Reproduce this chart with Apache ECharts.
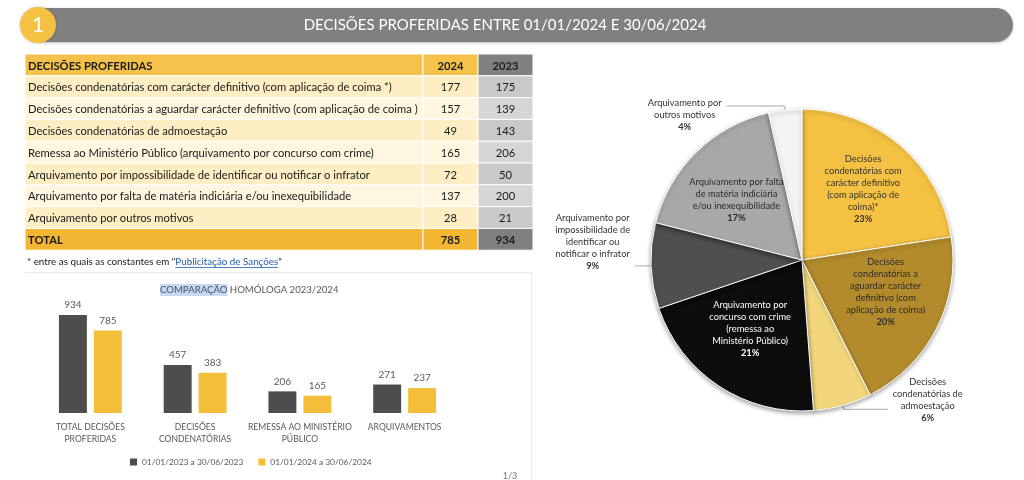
<!DOCTYPE html>
<html><head><meta charset="utf-8">
<script src="https://cdn.jsdelivr.net/npm/echarts@6/dist/echarts.min.js"></script>
<style>html,body{margin:0;padding:0;background:#fff}#c{width:1024px;height:480px}</style>
</head><body><div id="c"></div>
<script>
// ---------- DATA ----------
const pageNumber = '1';
const pageTitle = 'DECISÕES PROFERIDAS ENTRE 01/01/2024 E 30/06/2024';
const tableHeader = ['DECISÕES PROFERIDAS', '2024', '2023'];
const tableRows = [
  'Decisões condenatórias com carácter definitivo (com aplicação de coima *)',
  'Decisões condenatórias a aguardar carácter definitivo (com aplicação de coima )',
  'Decisões condenatórias de admoestação',
  'Remessa ao Ministério Público (arquivamento por concurso com crime)',
  'Arquivamento por impossibilidade de identificar ou notificar o infrator',
  'Arquivamento por falta de matéria indiciária e/ou inexequibilidade',
  'Arquivamento por outros motivos'
];
const values2024 = [177, 157, 49, 165, 72, 137, 28];
const values2023 = [175, 139, 143, 206, 50, 200, 21];
const totalLabel = 'TOTAL';
const footnotePrefix = '* entre as quais as constantes em "';
const footnoteLink = 'Publicitação de Sanções';
const footnoteSuffix = '"';
const barTitleHighlight = 'COMPARAÇÃO';
const barTitleRest = ' HOMÓLOGA 2023/2024';
const barCategories = ['TOTAL DECISÕES\nPROFERIDAS', 'DECISÕES\nCONDENATÓRIAS', 'REMESSA AO MINISTÉRIO\nPÚBLICO', 'ARQUIVAMENTOS'];
const barSeriesNames = ['01/01/2023 a 30/06/2023', '01/01/2024 a 30/06/2024'];
const bars2023 = [934, 457, 206, 271];
const bars2024 = [785, 383, 165, 237];
const pieLabels = [
  'Decisões\ncondenatórias com\ncarácter definitivo\n(com aplicação de\ncoima)*',
  'Decisões\ncondenatórias a\naguardar carácter\ndefinitivo (com\naplicação de coima)',
  'Decisões\ncondenatórias de\nadmoestação',
  'Arquivamento por\nconcurso com crime\n(remessa ao\nMinistério Público)',
  'Arquivamento por\nimpossibilidade de\nidentificar ou\nnotificar o infrator',
  'Arquivamento por falta\nde matéria indiciária\ne/ou inexequibilidade',
  'Arquivamento por\noutros motivos'
];
const pieValues = values2024;
const pageFooter = '1/3';

// ---------- STYLE ----------
const FONT = 'Lato, "Open Sans", sans-serif';
const pieColors = ['#F4C142', '#B38B2C', '#F3D67C', '#0D0D0D', '#4F4F4F', '#A8A8A8', '#F4F4F4'];
const pieInside = [true, true, false, true, false, true, false];
const pieInsideText = ['#333', '#2b2b2b', '#333', '#fff', '#333', '#2b2b2b', '#333'];
const pieLine = {2: [4, 44], 4: [4, 12], 6: [4, 58]};
const pieLabelDy = {0: 0, 1: -11, 3: -9, 5: 7, 2: -9, 4: -24, 6: 9};

const chart = echarts.init(document.getElementById('c'), null, {renderer: 'canvas'});

// table graphics
const g = [];
const tx0 = 25, tc1 = 423, tc2 = 478, tx1 = 533, ty0 = 54, rh = 21.8;
const TF = '11.2px ' + FONT, TFB = 'bold 11.2px ' + FONT;
function cell(x, y, w, h, fill) {
  g.push({type: 'rect', shape: {x, y, width: w, height: h}, style: {fill, stroke: '#fff', lineWidth: 1}, silent: true});
}
function txt(text, x, y, opts) {
  g.push({type: 'text', silent: true, style: Object.assign({text, x, y, fill: '#1a1a1a', font: TF,
    textAlign: 'left', align: 'left', textVerticalAlign: 'middle', verticalAlign: 'middle'}, opts || {})});
}
// header
cell(tx0, ty0, tc1 - tx0, rh, '#F4C24A');
cell(tc1, ty0, tc2 - tc1, rh, '#F4C24A');
cell(tc2, ty0, tx1 - tc2, rh, '#808080');
txt(tableHeader[0], tx0 + 3, ty0 + rh / 2 + 1, {font: TFB});
txt(tableHeader[1], (tc1 + tc2) / 2, ty0 + rh / 2 + 1, {font: TFB, textAlign: 'center', align: 'center'});
txt(tableHeader[2], (tc2 + tx1) / 2, ty0 + rh / 2 + 1, {font: TFB, textAlign: 'center', align: 'center'});
tableRows.forEach((lab, i) => {
  const y = ty0 + rh * (i + 1);
  const f = i % 2 === 0 ? '#FDEEC4' : '#FEF6DF';
  const f2 = i % 2 === 0 ? '#C9C9C9' : '#D6D6D6';
  cell(tx0, y, tc1 - tx0, rh, f);
  cell(tc1, y, tc2 - tc1, rh, f);
  cell(tc2, y, tx1 - tc2, rh, f2);
  txt(lab, tx0 + 3, y + rh / 2 + 1);
  txt(String(values2024[i]), (tc1 + tc2) / 2, y + rh / 2 + 1, {textAlign: 'center', align: 'center'});
  txt(String(values2023[i]), (tc2 + tx1) / 2, y + rh / 2 + 1, {textAlign: 'center', align: 'center'});
});
const ty = ty0 + rh * (tableRows.length + 1);
const sum = a => a.reduce((s, v) => s + v, 0);
cell(tx0, ty, tc1 - tx0, rh, '#F2B632');
cell(tc1, ty, tc2 - tc1, rh, '#F2B632');
cell(tc2, ty, tx1 - tc2, rh, '#7F7F7F');
txt(totalLabel, tx0 + 3, ty + rh / 2 + 1, {font: TFB});
txt(String(sum(values2024)), (tc1 + tc2) / 2, ty + rh / 2 + 1, {font: TFB, textAlign: 'center', align: 'center'});
txt(String(sum(values2023)), (tc2 + tx1) / 2, ty + rh / 2 + 1, {font: TFB, textAlign: 'center', align: 'center'});

// footnote
const fnFont = '9.8px ' + FONT;
const mctx = document.createElement('canvas').getContext('2d');
mctx.font = fnFont;
const wPre = mctx.measureText(footnotePrefix).width;
const wLink = mctx.measureText(footnoteLink).width;
const fnX = 27, fnY = 262;
txt(footnotePrefix, fnX, fnY, {font: fnFont, fill: '#222'});
txt(footnoteLink, fnX + wPre, fnY, {font: fnFont, fill: '#1F5FB0'});
txt(footnoteSuffix, fnX + wPre + wLink, fnY, {font: fnFont, fill: '#222'});
g.push({type: 'line', silent: true, shape: {x1: fnX + wPre, y1: fnY + 5.5, x2: fnX + wPre + wLink, y2: fnY + 5.5}, style: {stroke: '#1F5FB0', lineWidth: 0.8}});

// chart box faint border
g.push({type: 'polyline', silent: true, shape: {points: [[25, 272.5], [531.5, 272.5], [531.5, 480]]}, style: {stroke: '#EBEBEB', lineWidth: 1, fill: null}});

// bar title
g.push({type: 'text', silent: true, style: {x: 160, y: 290, textVerticalAlign: 'middle', verticalAlign: 'middle',
  text: '{h|' + barTitleHighlight + '}{r|' + barTitleRest + '}',
  rich: {h: {fill: '#44546A', backgroundColor: '#C6D9F1', font: '9.6px ' + FONT, padding: [1, 0, 1, 0]},
         r: {fill: '#595959', font: '9.6px ' + FONT}}}});

// banner
g.push({type: 'rect', silent: true, shape: {x: 30, y: 8, width: 983, height: 34, r: 17}, style: {fill: '#808080', shadowBlur: 3, shadowColor: 'rgba(0,0,0,0.25)', shadowOffsetY: 1}});
g.push({type: 'circle', silent: true, shape: {cx: 38, cy: 25, r: 18}, style: {fill: '#F4C142', shadowBlur: 3, shadowColor: 'rgba(0,0,0,0.25)'}});
txt(pageNumber, 38, 25, {font: '21px ' + FONT, fill: '#fff', textAlign: 'center', align: 'center'});
txt(pageTitle, 505, 25, {font: '15px ' + FONT, fill: '#fff', textAlign: 'center', align: 'center'});
txt(pageFooter, 510, 476, {font: '9px ' + FONT, fill: '#777', textAlign: 'center', align: 'center'});

// pie label formatter
function pieFmt(p) {
  const lines = pieLabels[p.dataIndex].split('\n');
  return lines.map(l => '{n|' + l + '}').join('\n') + '\n{b|' + p.percent + '%}';
}
function richFor(color) {
  return {
    n: {color, fontSize: 9.3, fontFamily: FONT, lineHeight: 12, align: 'center'},
    b: {color, fontSize: 9.3, fontFamily: FONT, fontWeight: 'bold', lineHeight: 12, align: 'center'}
  };
}

const mainData = pieValues.map((v, i) => ({
  value: v, name: 'p' + i,
  itemStyle: {color: pieColors[i]},
  label: {show: !pieInside[i], rich: richFor('#333')},
  labelLine: {show: !pieInside[i], length: pieLine[i] ? pieLine[i][0] : 5, length2: pieLine[i] ? pieLine[i][1] : 10, lineStyle: {color: '#A6A6A6', width: 1}}
}));
const overlayData = pieValues.map((v, i) => ({
  value: v, name: 'p' + i,
  label: {show: pieInside[i], rich: richFor(pieInsideText[i])}
}));

chart.setOption({
  animation: false,
  backgroundColor: '#fff',
  textStyle: {fontFamily: FONT},
  graphic: {elements: g},
  legend: {
    data: barSeriesNames, left: 125, top: 453, itemWidth: 7, itemHeight: 7, itemGap: 15, icon: 'rect',
    textStyle: {fontSize: 8.4, color: '#595959', fontFamily: FONT}
  },
  grid: {left: 38, right: 567, top: 308, bottom: 67, containLabel: false},
  xAxis: {type: 'category', data: barCategories, axisLine: {show: false}, axisTick: {show: false},
    axisLabel: {interval: 0, fontSize: 8.6, lineHeight: 12, color: '#595959', margin: 8, fontFamily: FONT}},
  yAxis: {type: 'value', min: 0, max: 1000, show: false, splitLine: {show: false}},
  series: [
    {type: 'bar', name: barSeriesNames[0], data: bars2023, barGap: '25%', barCategoryGap: '40%',
      itemStyle: {color: '#4D4D4D'}, label: {show: true, position: 'top', distance: 5, fontSize: 10, color: '#595959'}},
    {type: 'bar', name: barSeriesNames[1], data: bars2024,
      itemStyle: {color: '#F4BE3A'}, label: {show: true, position: 'top', distance: 5, fontSize: 10, color: '#595959'}},
    {type: 'pie', name: 'pie', center: [802, 260], radius: 151, startAngle: 90, clockwise: true,
      percentPrecision: 0, avoidLabelOverlap: false, silent: true,
      itemStyle: {borderColor: '#fff', borderWidth: 1, shadowBlur: 4, shadowColor: 'rgba(0,0,0,0.35)', shadowOffsetY: 2},
      label: {position: 'outside', formatter: pieFmt, alignTo: 'none'},
      labelLayout: p => ({dy: pieLabelDy[p.dataIndex] || 0}),
      data: mainData},
    {type: 'pie', name: 'pieLabels', center: [802, 260], radius: 182, startAngle: 90, clockwise: true,
      percentPrecision: 0, avoidLabelOverlap: false, silent: true, z: 5,
      itemStyle: {color: 'rgba(0,0,0,0)', borderWidth: 0},
      label: {position: 'inside', formatter: pieFmt},
      labelLine: {show: false},
      labelLayout: p => ({dy: pieLabelDy[p.dataIndex] || 0}),
      data: overlayData}
  ]
});
</script></body></html>
